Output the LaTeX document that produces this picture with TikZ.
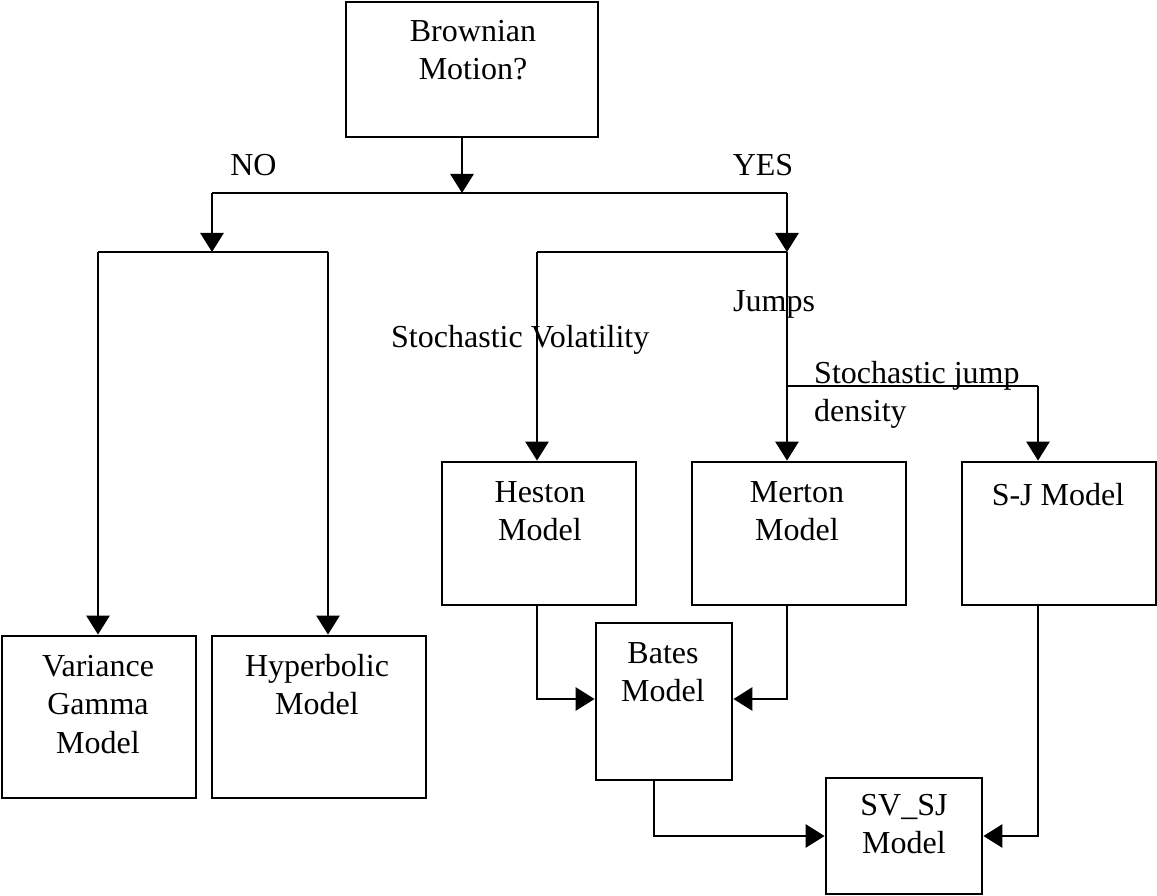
\documentclass[tikz,border=0pt]{standalone}
\usepackage{fontspec}
\setmainfont{Liberation Serif}
\usetikzlibrary{arrows.meta}
\begin{document}
\begin{tikzpicture}[x=1pt,y=-1pt,
  box/.style 2 args={draw, line width=2.8pt, inner sep=0pt, minimum width=#1, minimum height=#2},
  txt/.style={font=\fontsize{32}{38.5}\selectfont, align=center, anchor=base, inner sep=0pt},
  lbl/.style={font=\fontsize{32}{38.5}\selectfont, align=left, anchor=base west, inner sep=0pt},
  conn/.style={line width=2.8pt},
  arr/.style={conn, -{Triangle[length=19pt,width=23pt]}}]
\useasboundingbox (0,0) rectangle (1157,896);

% boxes
\node[box={252pt}{135pt}] (bm)   at (472,69.5) {};
\node[box={194pt}{162pt}] (var)  at (99,717) {};
\node[box={214pt}{162pt}] (hyp)  at (319,717) {};
\node[box={194pt}{143pt}] (hes)  at (539,533.5) {};
\node[box={214pt}{143pt}] (mer)  at (799,533.5) {};
\node[box={194pt}{143pt}] (sj)   at (1059,533.5) {};
\node[box={136pt}{157pt}] (bat)  at (664,701.5) {};
\node[box={156pt}{116pt}] (svsj) at (904,836) {};

% box texts (base anchor = baseline of the last line)
\node[txt] (bmT)   at (473,80)    {Brownian\\Motion?};
\node[txt] (varT)  at (98,753)    {Variance\\Gamma\\Model};
\node[txt] (hypT)  at (317,714.5) {Hyperbolic\\Model};
\node[txt] (hesT)  at (540,540.5) {Heston\\Model};
\node[txt] (merT)  at (797,540.5) {Merton\\Model};
\node[txt] (sjT)   at (1058,505)  {S-J Model};
\node[txt] (batT)  at (663,701.5) {Bates\\Model};
\node[txt] (svsjT) at (904,853.5) {SV\_SJ\\Model};

% labels
\node[txt] (no)   at (253.5,176) {NO};
\node[txt] (yes)  at (763,176) {YES};
\node[lbl] (jmp)  at (733,312) {Jumps};
\node[lbl] (sv)   at (391,347) {Stochastic Volatility};
\node[lbl] (sjd)  at (814,421.5) {Stochastic jump\\density};

% junction coordinates
\coordinate (split) at (462,193);
\coordinate (noJ)   at (212,193);
\coordinate (yesJ)  at (787,193);
\coordinate (noB)   at (212,252);
\coordinate (yesB)  at (787,252);
\coordinate (varJ)  at (98,252);
\coordinate (hypJ)  at (328,252);
\coordinate (svJ)   at (537,252);
\coordinate (sjJ)   at (787,386);
\coordinate (sjC)   at (1038,386);
\coordinate (batIn) at (0,699);
\coordinate (batOut) at (654,0);

% connectors
\draw[arr] (bm.south -| split) -- (split);
\draw[conn] (noJ) -- (yesJ);
\draw[arr] (noJ) -- (noB);
\draw[arr] (yesJ) -- (yesB);
\draw[conn] (varJ) -- (hypJ);
\draw[arr] (varJ) -- (var.north -| varJ);
\draw[arr] (hypJ) -- (hyp.north -| hypJ);
\draw[conn] (svJ) -- (yesB);
\draw[arr] (svJ) -- (hes.north -| svJ);
\draw[arr] (yesB) -- (mer.north -| yesB);
\draw[conn] (sjJ) -- (sjC);
\draw[arr] (sjC) -- (sj.north -| sjC);
\draw[arr] (hes.south -| svJ) |- (bat.west |- batIn);
\draw[arr] (mer.south -| yesB) |- (bat.east |- batIn);
\draw[arr] (bat.south -| batOut) |- (svsj.west);
\draw[arr] (sj.south -| sjC) |- (svsj.east);
\end{tikzpicture}
\end{document}
